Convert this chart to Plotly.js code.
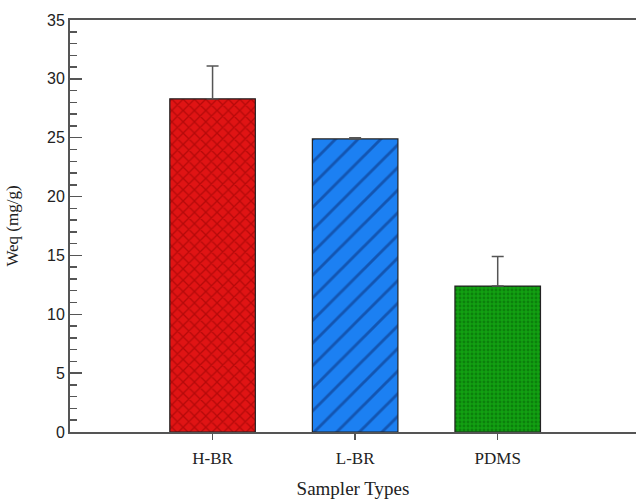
<!DOCTYPE html>
<html>
<head>
<meta charset="utf-8">
<script src="https://cdn.plot.ly/plotly-3.0.1.min.js"></script>
<style>html,body{margin:0;padding:0;background:#fff;}#chart{width:636px;height:501px;}</style>
</head>
<body>
<div id="chart"></div>
<script>
var categories = ["H-BR", "L-BR", "PDMS"];
var weq = [28.3, 24.9, 12.4];
var errUp = [2.8, 0.1, 2.5];
var barColors = ["#e01414", "#1c80f2", "#12a012"];
var patternColors = ["#8a0000", "#0a2a70", "#066006"];
var patternShapes = ["x", "/", "."];
var patternSizes = [8, 16, 4];
var patternSolidity = [0.3, 0.18, 0.4];

var traces = categories.map(function (c, i) {
  return {
    type: "bar",
    x: [c],
    y: [weq[i]],
    width: 0.6,
    marker: {
      color: barColors[i],
      line: {color: "#222222", width: 1.2},
      pattern: {
        shape: patternShapes[i],
        fgcolor: patternColors[i],
        bgcolor: barColors[i],
        size: patternSizes[i],
        solidity: patternSolidity[i],
        fillmode: "overlay"
      }
    },
    error_y: {
      type: "data",
      symmetric: false,
      array: [errUp[i]],
      arrayminus: [0],
      color: "#555555",
      thickness: 1.5,
      width: 6
    },
    hoverinfo: "none"
  };
});

var layout = {
  width: 636,
  height: 501,
  margin: {l: 70, r: 0, t: 20, b: 69},
  paper_bgcolor: "#ffffff",
  plot_bgcolor: "#ffffff",
  showlegend: false,
  barmode: "overlay",
  xaxis: {
    type: "category",
    range: [-1, 2.97],
    showline: true,
    linecolor: "#555555",
    linewidth: 2,
    mirror: true,
    ticks: "outside",
    ticklen: 6,
    tickwidth: 1.5,
    tickcolor: "#555555",
    ticklabelstandoff: 4,
    showgrid: false,
    zeroline: false,
    tickfont: {family: "Liberation Serif, Times New Roman, serif", size: 17, color: "#222222"},
    title: {text: "Sampler Types", standoff: 14, font: {family: "Liberation Serif, Times New Roman, serif", size: 19, color: "#222222"}}
  },
  yaxis: {
    range: [0, 35],
    dtick: 5,
    showline: true,
    linecolor: "#555555",
    linewidth: 2,
    ticks: "inside",
    ticklen: 12,
    tickwidth: 1.5,
    tickcolor: "#555555",
    minor: {dtick: 1, ticks: "inside", ticklen: 7, tickwidth: 1.5, tickcolor: "#555555", showgrid: false},
    showgrid: false,
    zeroline: false,
    tickfont: {family: "Liberation Sans, Arial, sans-serif", size: 16, color: "#222222"},
    title: {text: "Weq (mg/g)", standoff: 24, font: {family: "Liberation Serif, Times New Roman, serif", size: 17, color: "#222222"}}
  }
};

Plotly.newPlot("chart", traces, layout, {staticPlot: true, displayModeBar: false});
</script>
</body>
</html>
